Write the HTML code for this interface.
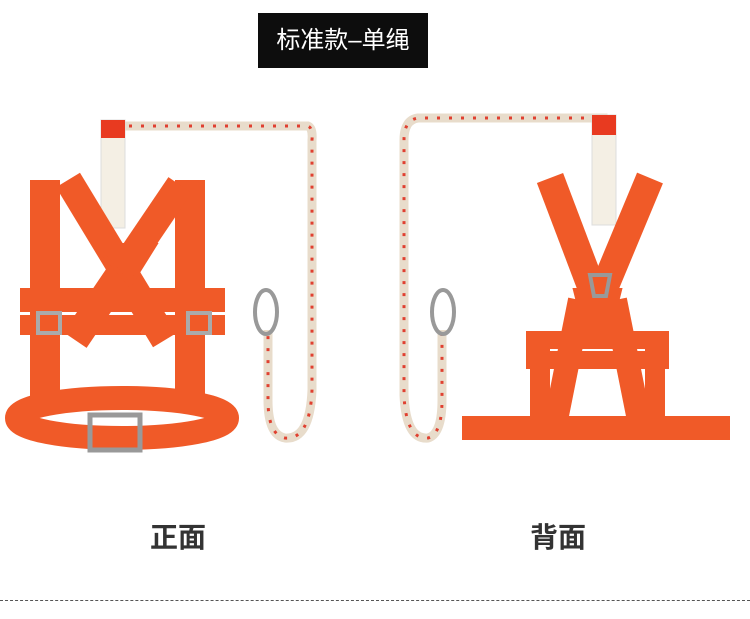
<!DOCTYPE html>
<html><head><meta charset="utf-8"><style>
body{margin:0;background:#fff;width:750px;height:619px;overflow:hidden;position:relative;font-family:"Liberation Sans","Noto Sans CJK SC",sans-serif}
.title{position:absolute;left:258px;top:13px;width:170px;height:55px;background:#0d0d0d;color:#fff;font-size:24px;line-height:55px;text-align:center}
.lab{position:absolute;top:520px;font-size:28px;font-weight:bold;color:#333;line-height:36px}
.dash{position:absolute;left:0;top:600px;width:750px;border-top:1px dashed #555}
</style></head><body>
<div class="title">标准款–单绳</div>
<svg width="750" height="619" style="position:absolute;left:0;top:0">
<defs>
<g id="rope"></g>
</defs>
<!-- front rope -->
<path d="M107 140 L107 126 L308 126 Q313 128 312 140 L312 390 Q310 440 285 438 Q268 435 268 400 L268 330" fill="none" stroke="#e8dccb" stroke-width="9"/>
<path d="M107 140 L107 126 L308 126 Q313 128 312 140 L312 390 Q310 440 285 438 Q268 435 268 400 L268 330" fill="none" stroke="#e04030" stroke-width="3" stroke-dasharray="3 9"/>
<rect x="101" y="120" width="24" height="108" fill="#f4efe4" stroke="#ddd"/>
<rect x="101" y="120" width="24" height="18" fill="#e83a20"/>
<ellipse cx="266" cy="312" rx="11" ry="22" fill="none" stroke="#999" stroke-width="4"/>
<!-- back rope -->
<path d="M603 135 L603 118 L418 118 Q404 120 404 140 L404 395 Q406 440 428 438 Q442 434 442 400 L442 330" fill="none" stroke="#e8dccb" stroke-width="9"/>
<path d="M603 135 L603 118 L418 118 Q404 120 404 140 L404 395 Q406 440 428 438 Q442 434 442 400 L442 330" fill="none" stroke="#e04030" stroke-width="3" stroke-dasharray="3 9"/>
<rect x="592" y="115" width="24" height="110" fill="#f4efe4" stroke="#ddd"/>
<rect x="592" y="115" width="24" height="20" fill="#e83a20"/>
<ellipse cx="443" cy="312" rx="11" ry="22" fill="none" stroke="#999" stroke-width="4"/>
<!-- front harness -->
<g stroke="#f05a28" fill="none" stroke-linecap="butt">
<path d="M45 180 L45 410" stroke-width="30"/>
<path d="M190 180 L190 410" stroke-width="30"/>
<path d="M68 180 L165 340" stroke-width="28"/>
<path d="M180 185 L75 340" stroke-width="28"/>
<path d="M20 300 L225 300" stroke-width="24"/>
<path d="M20 325 L225 325" stroke-width="20"/>
<ellipse cx="122" cy="418" rx="105" ry="20" stroke-width="24"/>
<path d="M95 245 L155 245 L130 285 Z" fill="#f05a28" stroke-width="4"/>
</g>
<rect x="90" y="415" width="50" height="35" fill="none" stroke="#999" stroke-width="5"/>
<rect x="38" y="313" width="22" height="20" fill="none" stroke="#aaa" stroke-width="4"/>
<rect x="188" y="313" width="22" height="20" fill="none" stroke="#aaa" stroke-width="4"/>
<!-- back harness -->
<g stroke="#f05a28" fill="none">
<path d="M550 178 L600 310" stroke-width="28"/>
<path d="M650 178 L595 310" stroke-width="28"/>
<path d="M580 300 L555 425" stroke-width="24"/>
<path d="M615 300 L640 425" stroke-width="24"/>
<path d="M535 340 L660 340 L660 360 L535 360 Z" stroke-width="18"/>
<path d="M462 428 L730 428" stroke-width="24"/>
<path d="M540 340 L540 420" stroke-width="20"/>
<path d="M655 340 L655 420" stroke-width="20"/>
<path d="M575 290 L620 290 L610 330 L585 330 Z" fill="#f05a28" stroke-width="4"/>
</g>
<path d="M590 275 L610 275 L606 296 L594 296 Z" fill="none" stroke="#999" stroke-width="4"/>
</svg>
<div class="lab" style="left:150px">正面</div>
<div class="lab" style="left:530px">背面</div>
<div class="dash"></div>
</body></html>
